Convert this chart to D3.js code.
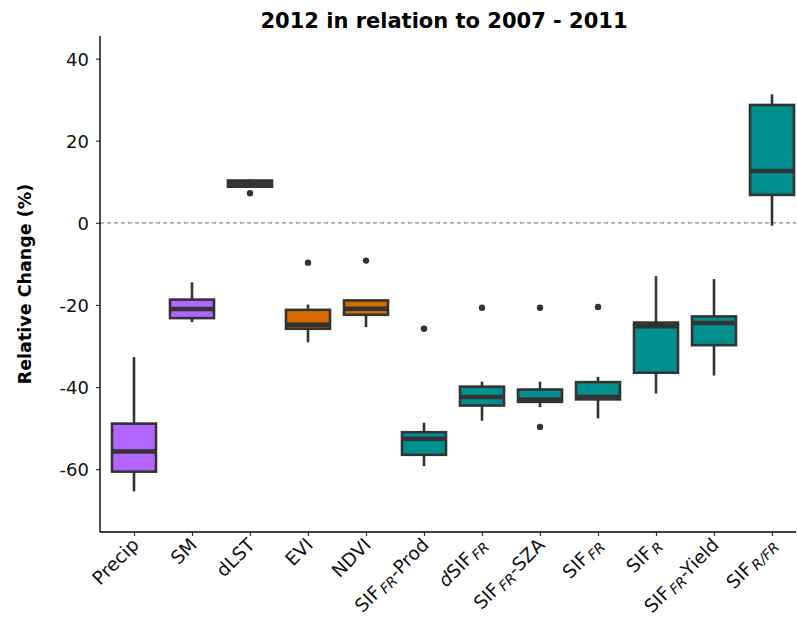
<!DOCTYPE html>
<html>
<head>
<meta charset="utf-8">
<script src="https://cdn.jsdelivr.net/npm/d3@7"></script>
<style>
  html, body { margin: 0; padding: 0; background: #fff; }
  svg { display: block; font-family: "DejaVu Sans", Verdana, sans-serif; }
</style>
</head>
<body>
<svg id="chart" width="797" height="624"></svg>
<script>
// Variables compared (2012 vs. the 2007-2011 baseline)
const categories = ["Precip", "SM", "dLST", "EVI", "NDVI", "SIF-Prod", "dSIF", "SIF-SZA", "SIF_FR", "SIF_R", "SIF-Yield", "SIF_RFR"];
const groups     = ["met", "met", "lst", "vi", "vi", "sif", "sif", "sif", "sif", "sif", "sif", "sif"];

// Box statistics, relative change (%)
const whiskerLow  = [-65.4, -24.2, 8.7, -29.1, -25.4, -59.3, -48.2, -44.9, -47.6, -41.6, -37.2, -0.7];
const q1          = [-60.6, -23.2, 8.8, -25.8, -22.4, -56.5, -44.5, -43.6, -43.0, -36.5, -29.8, 6.8];
const medians     = [-55.7, -21.0, 9.6, -24.8, -20.9, -52.6, -42.4, -43.0, -42.4, -25.2, -24.4, 12.6];
const q3          = [-48.9, -18.7, 10.3, -21.2, -18.9, -51.0, -39.9, -40.6, -38.8, -24.3, -22.8, 28.7];
const whiskerHigh = [-32.7, -14.5, 10.6, -19.9, -18.8, -48.7, -38.7, -38.7, -37.5, -13.0, -13.7, 31.3];
const outliers    = [[], [], [7.2], [-9.7], [-9.2], [-25.8], [-20.7], [-20.7, -49.7], [-20.5], [], [], []];

const yTicks = [-60, -40, -20, 0, 20, 40];

const groupColors = { met: "#b266ff", lst: "#b266ff", vi: "#d96c00", sif: "#008f8f" };

const data = categories.map((c, i) => ({
  cat: c, group: groups[i],
  lo: whiskerLow[i], q1: q1[i], med: medians[i], q3: q3[i], hi: whiskerHigh[i],
  out: outliers[i]
}));

const svg = d3.select("#chart");
const plotLeft = 100, plotRight = 796, plotTop = 36, plotBottom = 532;

const x = d3.scalePoint().domain(categories).range([134, 772]);
const y = d3.scaleLinear().domain([-75.3, 45.5]).range([plotBottom, plotTop]);
const boxW = 44;
const ink = "#333333";

// zero reference line
svg.append("line")
  .attr("x1", plotLeft).attr("x2", plotRight)
  .attr("y1", y(0)).attr("y2", y(0))
  .attr("stroke", "#888").attr("stroke-width", 1.2)
  .attr("stroke-dasharray", "4,3");

// boxes
const g = svg.append("g");
const box = g.selectAll("g.box").data(data).join("g").attr("class", "box");

box.append("line")
  .attr("x1", d => x(d.cat)).attr("x2", d => x(d.cat))
  .attr("y1", d => y(d.hi)).attr("y2", d => y(d.q3))
  .attr("stroke", ink).attr("stroke-width", 2.6);
box.append("line")
  .attr("x1", d => x(d.cat)).attr("x2", d => x(d.cat))
  .attr("y1", d => y(d.q1)).attr("y2", d => y(d.lo))
  .attr("stroke", ink).attr("stroke-width", 2.6);

box.append("rect")
  .attr("x", d => x(d.cat) - boxW / 2)
  .attr("width", boxW)
  .attr("y", d => y(d.q3))
  .attr("height", d => Math.max(0.5, y(d.q1) - y(d.q3)))
  .attr("fill", d => d.group === "lst" ? ink : groupColors[d.group])
  .attr("stroke", ink).attr("stroke-width", 2.6);

box.append("line")
  .attr("x1", d => x(d.cat) - boxW / 2).attr("x2", d => x(d.cat) + boxW / 2)
  .attr("y1", d => y(d.med)).attr("y2", d => y(d.med))
  .attr("stroke", ink).attr("stroke-width", 4.5);

box.selectAll("circle").data(d => d.out.map(v => ({ cat: d.cat, v })))
  .join("circle")
  .attr("cx", d => x(d.cat)).attr("cy", d => y(d.v))
  .attr("r", 3.2).attr("fill", ink);

// y axis
const yAxis = svg.append("g")
  .attr("transform", `translate(${plotLeft},0)`)
  .call(d3.axisLeft(y).tickValues(yTicks).tickFormat(d => String(d)).tickSize(4).tickSizeOuter(0));
yAxis.select(".domain").remove();
yAxis.append("line").attr("x1", 0).attr("x2", 0).attr("y1", plotTop).attr("y2", plotBottom)
  .attr("stroke", "#000").attr("stroke-width", 1.4);
yAxis.selectAll(".tick line").attr("stroke", "#333").attr("stroke-width", 1.2);
yAxis.selectAll(".tick text").attr("x", -11).attr("dy", "0.36em")
  .attr("font-size", 18).attr("fill", "#111").attr("font-family", "DejaVu Sans, sans-serif");

// x axis
const xAxis = svg.append("g")
  .attr("transform", `translate(0,${plotBottom})`)
  .call(d3.axisBottom(x).tickSize(4).tickSizeOuter(0).tickFormat(""));
xAxis.select(".domain").remove();
xAxis.append("line").attr("x1", plotLeft).attr("x2", plotRight).attr("y1", 0).attr("y2", 0)
  .attr("stroke", "#000").attr("stroke-width", 1.4);
xAxis.selectAll(".tick line").attr("stroke", "#333").attr("stroke-width", 1.2);

// x tick labels with subscripts
const labelParts = {
  "Precip":    [["Precip", ""]],
  "SM":        [["SM", ""]],
  "dLST":      [["dLST", ""]],
  "EVI":       [["EVI", ""]],
  "NDVI":      [["NDVI", ""]],
  "SIF-Prod":  [["SIF", ""], ["FR", "sub"], ["-Prod", ""]],
  "dSIF":      [["d", "it"], ["SIF", ""], ["FR", "sub"]],
  "SIF-SZA":   [["SIF", ""], ["FR", "sub"], ["-SZA", ""]],
  "SIF_FR":    [["SIF", ""], ["FR", "sub"]],
  "SIF_R":     [["SIF", ""], ["R", "sub"]],
  "SIF-Yield": [["SIF", ""], ["FR", "sub"], ["-Yield", ""]],
  "SIF_RFR":   [["SIF", ""], ["R/FR", "sub"]]
};

const labels = svg.append("g").selectAll("text").data(categories).join("text")
  .attr("transform", d => `translate(${x(d) + 6},${plotBottom + 14}) rotate(-45)`)
  .attr("text-anchor", "end")
  .attr("font-size", 18.5)
  .attr("fill", "#111");

labels.each(function (d) {
  const t = d3.select(this);
  const parts = labelParts[d];
  let shifted = false;
  parts.forEach(([txt, kind]) => {
    const ts = t.append("tspan").text(txt);
    if (kind === "sub") {
      ts.attr("font-size", 14).attr("font-style", "italic").attr("dy", 3).attr("dx", 2);
      shifted = true;
    } else if (kind === "it") {
      ts.attr("font-style", "italic");
    } else if (shifted) {
      ts.attr("dy", -3);
      shifted = false;
    }
  });
});

// title
svg.append("text")
  .attr("x", 444).attr("y", 28)
  .attr("text-anchor", "middle")
  .attr("font-size", 21).attr("font-weight", "bold").attr("fill", "#000")
  .text("2012 in relation to 2007 - 2011");

// y label
svg.append("text")
  .attr("transform", `translate(31,${(plotTop + plotBottom) / 2}) rotate(-90)`)
  .attr("text-anchor", "middle")
  .attr("font-size", 17.5).attr("font-weight", "bold").attr("fill", "#000")
  .text("Relative Change (%)");
</script>
</body>
</html>
